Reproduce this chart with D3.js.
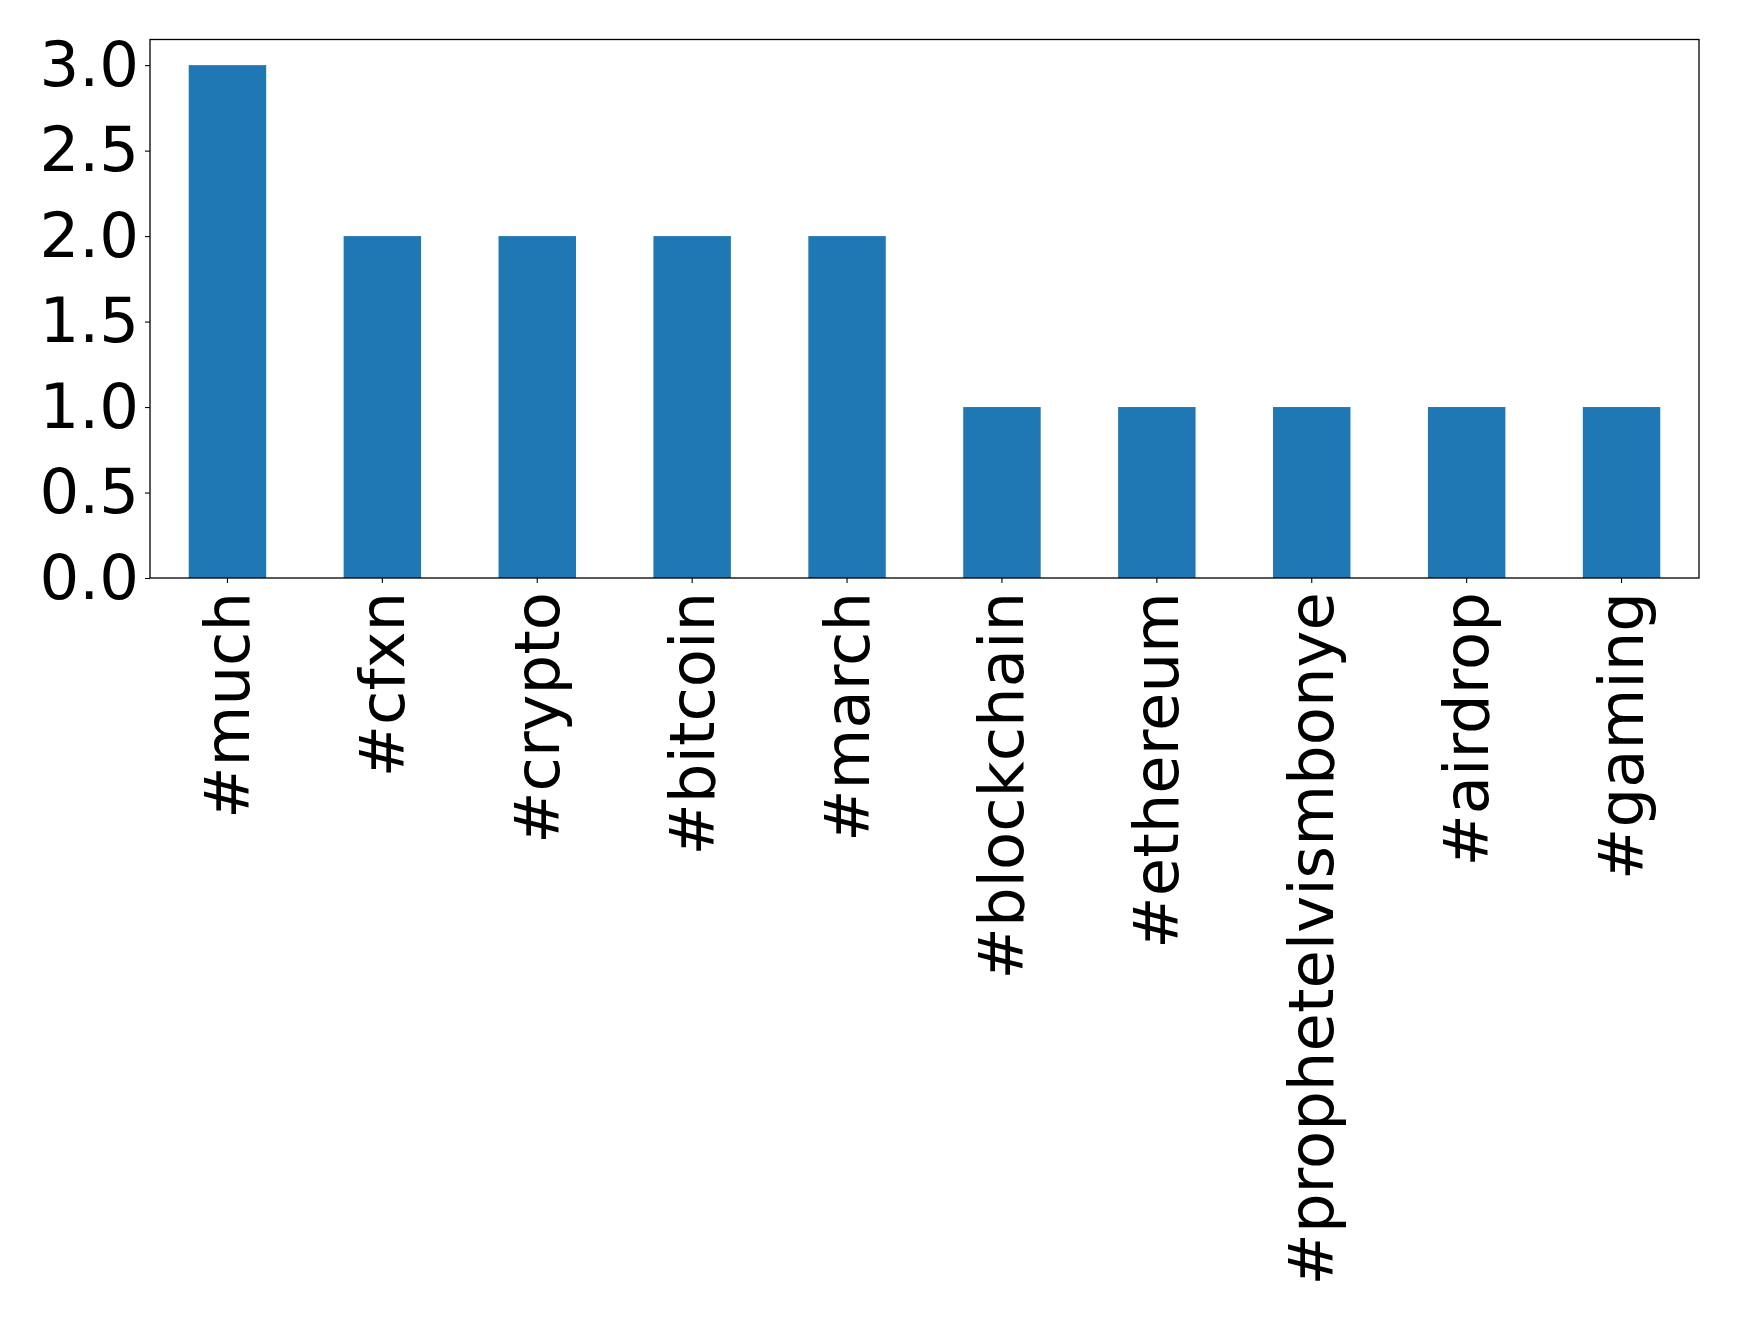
<!DOCTYPE html>
<html>
<head>
<meta charset="utf-8">
<script src="https://cdn.jsdelivr.net/npm/d3@7"></script>
<style>
html,body{margin:0;padding:0;background:#fff;}
svg{display:block;}
</style>
</head>
<body>
<svg id="chart" width="1739" height="1321"></svg>
<script>
const categories = ["#much","#cfxn","#crypto","#bitcoin","#march","#blockchain","#ethereum","#prophetelvismbonye","#airdrop","#gaming"];
const values = [3,2,2,2,2,1,1,1,1,1];
const yTicks = [0,0.5,1.0,1.5,2.0,2.5,3.0];

const W = 1739, H = 1321;
const m = {left:150, right:W-1699, top:39.5, bottom:H-578};
const svg = d3.select("#chart");
const font = "DejaVu Sans, sans-serif";
const fs = 62.5;

const x = d3.scaleBand().domain(categories).range([m.left, W-m.right]).paddingInner(0.5).paddingOuter(0.25);
const y = d3.scaleLinear().domain([0, 3.15]).range([H-m.bottom, m.top]);

svg.append("g").selectAll("rect").data(values).join("rect")
  .attr("x",(d,i)=>x(categories[i]))
  .attr("y",d=>y(d))
  .attr("width",x.bandwidth())
  .attr("height",d=>y(0)-y(d))
  .attr("fill","#1f77b4");

const yAxis = svg.append("g").attr("transform",`translate(${m.left},0)`)
  .call(d3.axisLeft(y).tickValues(yTicks).tickFormat(d3.format(".1f")).tickSize(5).tickPadding(6));
yAxis.select(".domain").remove();
yAxis.selectAll("line").attr("stroke","#000").attr("stroke-width",1.1);
yAxis.selectAll("text").attr("font-family",font).attr("font-size",fs).attr("fill","#000");

const xAxis = svg.append("g").attr("transform",`translate(0,${H-m.bottom})`)
  .call(d3.axisBottom(x).tickSize(5).tickPadding(0));
xAxis.select(".domain").remove();
xAxis.selectAll("line").attr("stroke","#000").attr("stroke-width",1.1);
xAxis.selectAll("text")
  .attr("font-family",font).attr("font-size",fs).attr("fill","#000")
  .attr("text-anchor","end").attr("dy",null).attr("y",null)
  .attr("dominant-baseline","central")
  .attr("transform","translate(0,14) rotate(-90)");

svg.append("rect")
  .attr("x",m.left).attr("y",m.top)
  .attr("width",W-m.right-m.left).attr("height",H-m.bottom-m.top)
  .attr("fill","none").attr("stroke","#000").attr("stroke-width",1.3);
</script>
</body>
</html>
